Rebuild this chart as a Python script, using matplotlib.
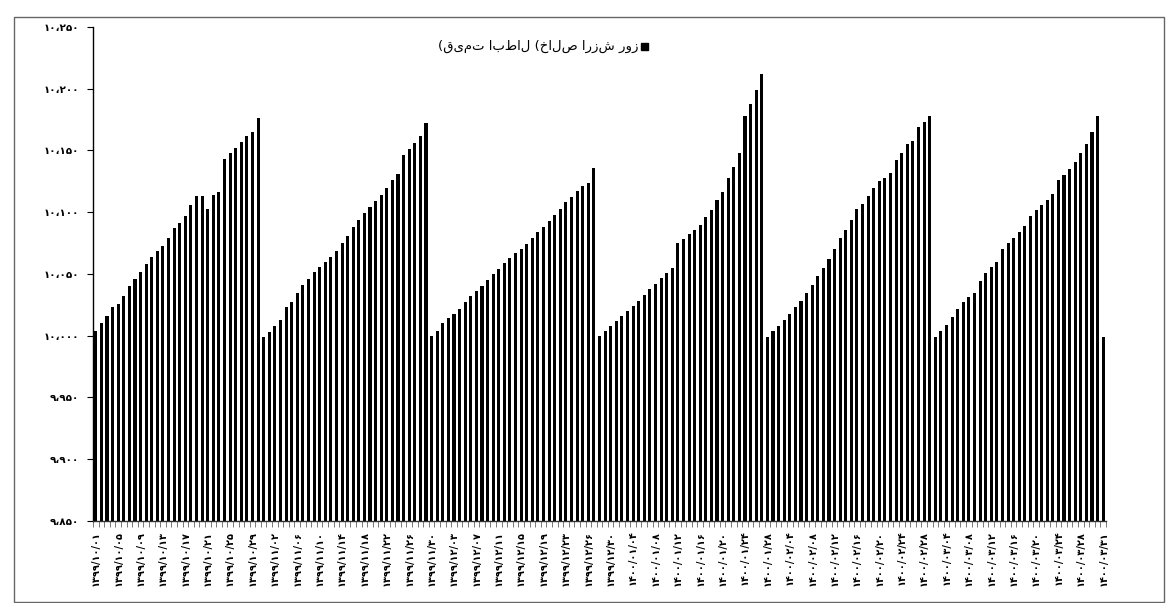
import matplotlib
matplotlib.use("Agg")
import matplotlib.pyplot as plt
from matplotlib.patches import Rectangle

# ---------------- data ----------------
seg1 = [10004, 10010, 10016, 10023, 10026, 10032, 10040, 10046, 10052, 10058,
        10064, 10069, 10073, 10079, 10087, 10091, 10097, 10106, 10113, 10113,
        10103, 10114, 10116, 10143, 10148, 10152, 10157, 10162, 10165, 10176]
seg2 = [9999, 10003, 10008, 10013, 10023, 10027, 10035, 10041, 10046, 10052,
        10056, 10060, 10064, 10069, 10075, 10081, 10088, 10094, 10099, 10104,
        10109, 10114, 10120, 10126, 10131, 10146, 10151, 10156, 10162, 10172]
seg3 = [10000, 10004, 10010, 10014, 10018, 10022, 10027, 10032, 10036, 10040,
        10045, 10050, 10054, 10059, 10063, 10067, 10070, 10074, 10079, 10084,
        10088, 10093, 10098, 10103, 10108, 10112, 10117, 10121, 10124, 10136]
seg4 = [10000, 10004, 10008, 10012, 10016, 10020, 10024, 10028, 10033, 10038,
        10042, 10047, 10051, 10055, 10075, 10078, 10082, 10086, 10090, 10096,
        10102, 10110, 10116, 10128, 10137, 10148, 10178, 10188, 10199, 10212]
seg5 = [9999, 10004, 10008, 10013, 10018, 10023, 10028, 10035, 10041, 10048,
        10055, 10062, 10070, 10079, 10086, 10094, 10103, 10107, 10113, 10120,
        10125, 10128, 10132, 10142, 10148, 10155, 10158, 10169, 10173, 10178]
seg6 = [9999, 10004, 10009, 10015, 10022, 10027, 10031, 10035, 10044, 10051,
        10056, 10060, 10070, 10075, 10079, 10084, 10089, 10097, 10102, 10106,
        10110, 10115, 10126, 10130, 10135, 10141, 10148, 10155, 10165, 10178]
last_day = [9999]

values = seg1 + seg2 + seg3 + seg4 + seg5 + seg6 + last_day

date_labels = [
    "1399/10/01", "1399/10/05", "1399/10/09", "1399/10/13", "1399/10/17",
    "1399/10/21", "1399/10/25", "1399/10/29", "1399/11/02", "1399/11/06",
    "1399/11/10", "1399/11/14", "1399/11/18", "1399/11/22", "1399/11/26",
    "1399/11/30", "1399/12/03", "1399/12/07", "1399/12/11", "1399/12/15",
    "1399/12/19", "1399/12/23", "1399/12/26", "1399/12/30",
    "1400/01/04", "1400/01/08", "1400/01/12", "1400/01/16", "1400/01/20",
    "1400/01/24", "1400/01/28", "1400/02/04", "1400/02/08", "1400/02/12",
    "1400/02/16", "1400/02/20", "1400/02/24", "1400/02/28", "1400/03/04",
    "1400/03/08", "1400/03/12", "1400/03/16", "1400/03/20", "1400/03/24",
    "1400/03/28", "1400/03/31",
]
y_ticks = [9850, 9900, 9950, 10000, 10050, 10100, 10150, 10200, 10250]

series_name = "(قیمت ابطال (خالص ارزش روز"

FA = str.maketrans("0123456789,", "۰۱۲۳۴۵۶۷۸۹،")


def fa(s):
    return s.translate(FA)


# ---------------- figure ----------------
W, H = 1167, 603
fig = plt.figure(figsize=(W / 100, H / 100), dpi=100)
fig.patch.set_facecolor("white")

left, right, top, bottom = 93, 1106, 27, 521
ax = fig.add_axes([left / W, (H - bottom) / H, (right - left) / W, (bottom - top) / H])

x = list(range(len(values)))
ax.bar(x, values, width=0.55, color="black", edgecolor="none")

ax.set_xlim(-0.5, len(values) - 0.5)
ax.set_ylim(9850, 10250)

ax.set_yticks(y_ticks)
ax.set_yticklabels([fa(f"{v:,}") for v in y_ticks], fontsize=7.5, family="DejaVu Sans",
                   fontweight="bold")
ax.tick_params(axis="y", direction="out", length=4, width=0.8, pad=6)

major_pos = list(range(0, len(values), 4))
ax.set_xticks(major_pos)
ax.set_xticklabels([fa(s) for s in date_labels], rotation=90, fontsize=7,
                   family="DejaVu Sans", fontweight="bold")
ax.set_xticks([i - 0.5 for i in range(len(values) + 1)], minor=True)
ax.tick_params(axis="x", which="major", length=0, pad=7)
ax.tick_params(axis="x", which="minor", length=4, width=0.5, color="#444444")

for s in ("top", "right"):
    ax.spines[s].set_visible(False)
ax.spines["left"].set_linewidth(1.0)
ax.spines["bottom"].set_linewidth(1.0)
ax.spines["bottom"].set_color("#333333")

# legend (top centre)
fig.text(639 / W, 1 - 46 / H, series_name, ha="right", va="center",
         fontsize=9.5, family="DejaVu Sans", color="black")
fig.patches.append(Rectangle((641 / W, 1 - 50 / H), 7 / W, 7 / H,
                             transform=fig.transFigure, facecolor="black",
                             edgecolor="black"))

# outer chart border
fig.patches.append(Rectangle((14 / W, 1 / H), (1164 - 14) / W, (603 - 17 - 1) / H,
                             transform=fig.transFigure, fill=False,
                             edgecolor="#666666", linewidth=1.0))

fig.savefig("out.png", dpi=100)
